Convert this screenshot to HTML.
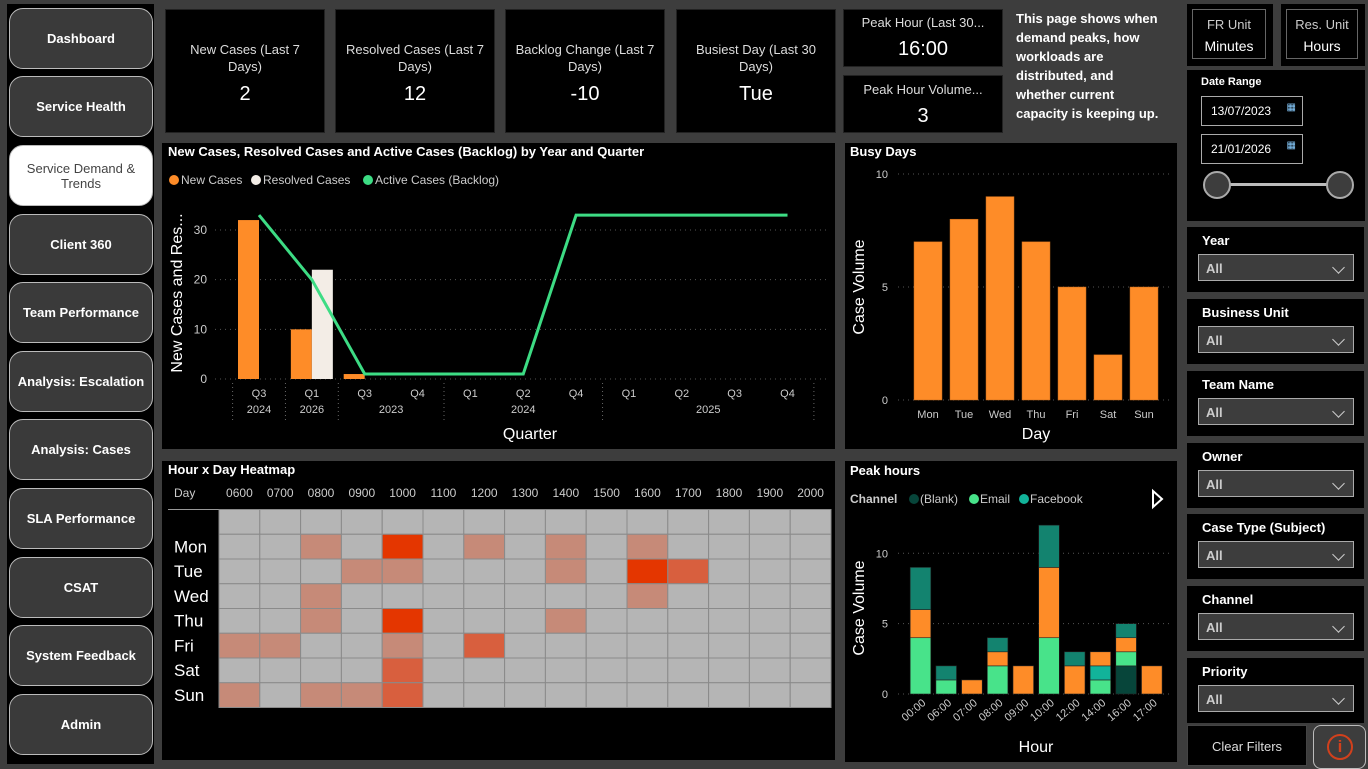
<!DOCTYPE html>
<html><head><meta charset="utf-8">
<style>
*{box-sizing:border-box;margin:0;padding:0}
body{width:1368px;height:768px;background:#3d3d3d;position:relative;overflow:hidden;font-family:"Liberation Sans",sans-serif;color:#fff}
.abs{position:absolute}
.blk{position:absolute;background:#000}
.nav{position:absolute;left:9px;width:144px;height:61px;background:#3a3a3a;border:1px solid #bbb;border-radius:14px;display:flex;align-items:center;justify-content:center;text-align:center;font-size:13px;font-weight:bold;color:#fff}
.nav.active{background:#fff;color:#444;font-weight:normal}
.kpi{position:absolute;background:#000;border:1px solid #222;text-align:center;color:#ddd;font-size:13px}
.kpi .v{font-size:20px;color:#fff}
.slicer{position:absolute;left:1187px;width:177px;height:65px;background:#000}
.slicer .t{position:absolute;left:15px;top:6px;font-size:13px;font-weight:bold;color:#fff}
.slicer .dd{position:absolute;left:11px;top:27px;width:156px;height:27px;background:#3d3d3d;border:1px solid #aaa;color:#ccc;font-size:13px;font-weight:bold;padding:6px 0 0 7px}
.chev{position:absolute;right:10px;top:8px;width:9px;height:9px;border-right:1.5px solid #ccc;border-bottom:1.5px solid #ccc;transform:rotate(45deg)}
</style></head><body>

<div class="blk" style="left:7px;top:4px;width:147px;height:760px"></div>
<div class="nav" style="top:8px">Dashboard</div>
<div class="nav" style="top:76px">Service Health</div>
<div class="nav active" style="top:145px">Service Demand &amp;<br>Trends</div>
<div class="nav" style="top:214px">Client 360</div>
<div class="nav" style="top:282px">Team Performance</div>
<div class="nav" style="top:351px">Analysis: Escalation</div>
<div class="nav" style="top:419px">Analysis: Cases</div>
<div class="nav" style="top:488px">SLA Performance</div>
<div class="nav" style="top:557px">CSAT</div>
<div class="nav" style="top:625px">System Feedback</div>
<div class="nav" style="top:694px">Admin</div>

<div class="kpi" style="left:165px;top:9px;width:160px;height:124px;padding-top:31px;line-height:17px">New Cases (Last 7<br>Days)<div class="v" style="margin-top:7px;line-height:24px">2</div></div>
<div class="kpi" style="left:335px;top:9px;width:160px;height:124px;padding-top:31px;line-height:17px">Resolved Cases (Last 7<br>Days)<div class="v" style="margin-top:7px;line-height:24px">12</div></div>
<div class="kpi" style="left:505px;top:9px;width:160px;height:124px;padding-top:31px;line-height:17px">Backlog Change (Last 7<br>Days)<div class="v" style="margin-top:7px;line-height:24px">-10</div></div>
<div class="kpi" style="left:676px;top:9px;width:160px;height:124px;padding-top:31px;line-height:17px">Busiest Day (Last 30<br>Days)<div class="v" style="margin-top:7px;line-height:24px">Tue</div></div>
<div class="kpi" style="left:843px;top:9px;width:160px;height:58px;padding-top:5px">Peak Hour (Last 30...<div class="v" style="margin-top:8px">16:00</div></div>
<div class="kpi" style="left:843px;top:75px;width:160px;height:58px;padding-top:6px">Peak Hour Volume...<div class="v" style="margin-top:8px">3</div></div>
<div class="abs" style="left:1016px;top:9px;width:150px;font-size:13px;font-weight:bold;line-height:19px;color:#fff">This page shows when demand peaks, how workloads are distributed, and whether current capacity is keeping up.</div>

<!-- right panel -->
<div class="blk" style="left:1187px;top:4px;width:86px;height:62px"></div>
<div class="abs" style="left:1192px;top:9px;width:74px;height:50px;border:1px solid #666;text-align:center;font-size:13px;color:#ccc;padding-top:7px">FR Unit<div style="color:#fff;font-size:14px;margin-top:6px">Minutes</div></div>
<div class="blk" style="left:1281px;top:4px;width:84px;height:62px"></div>
<div class="abs" style="left:1286px;top:9px;width:72px;height:50px;border:1px solid #666;text-align:center;font-size:13px;color:#ccc;padding-top:7px">Res. Unit<div style="color:#fff;font-size:14px;margin-top:6px">Hours</div></div>
<div class="blk" style="left:1187px;top:70px;width:178px;height:151px"></div>
<div class="abs" style="left:1201px;top:76px;font-size:11px;font-weight:bold">Date Range</div>
<div class="abs" style="left:1201px;top:96px;width:102px;height:30px;border:1px solid #aaa;font-size:12px;padding:7px 0 0 9px">13/07/2023<span style="position:absolute;right:6px;top:5px;font-size:10px;color:#8cf">▦</span></div>
<div class="abs" style="left:1201px;top:134px;width:102px;height:30px;border:1px solid #aaa;font-size:12px;padding:7px 0 0 9px">21/01/2026<span style="position:absolute;right:6px;top:5px;font-size:10px;color:#8cf">▦</span></div>
<div class="abs" style="left:1215px;top:183px;width:126px;height:3px;background:#bbb"></div>
<div class="abs" style="left:1203px;top:171px;width:28px;height:28px;border-radius:50%;border:2px solid #aaa;background:#3d3d3d"></div>
<div class="abs" style="left:1326px;top:171px;width:28px;height:28px;border-radius:50%;border:2px solid #aaa;background:#3d3d3d"></div>

<div class="slicer" style="top:227px"><div class="t">Year</div><div class="dd">All<div class="chev"></div></div></div>
<div class="slicer" style="top:299px"><div class="t">Business Unit</div><div class="dd">All<div class="chev"></div></div></div>
<div class="slicer" style="top:371px"><div class="t">Team Name</div><div class="dd">All<div class="chev"></div></div></div>
<div class="slicer" style="top:443px"><div class="t">Owner</div><div class="dd">All<div class="chev"></div></div></div>
<div class="slicer" style="top:514px"><div class="t">Case Type (Subject)</div><div class="dd">All<div class="chev"></div></div></div>
<div class="slicer" style="top:586px"><div class="t">Channel</div><div class="dd">All<div class="chev"></div></div></div>
<div class="slicer" style="top:658px"><div class="t">Priority</div><div class="dd">All<div class="chev"></div></div></div>
<div class="abs" style="left:1187px;top:725px;width:120px;height:41px;background:#000;border:1px solid #444;font-size:13px;color:#ddd;text-align:center;padding-top:13px">Clear Filters</div>
<div class="abs" style="left:1313px;top:725px;width:53px;height:44px;border:1px solid #bbb;border-radius:8px;background:#3d3d3d">
 <div style="position:absolute;left:13px;top:8px;width:26px;height:26px;border:2.5px solid #d2401c;border-radius:50%;color:#d2401c;font-weight:bold;font-size:17px;text-align:center;line-height:21px">i</div></div>

<!-- panels -->
<div class="blk" style="left:162px;top:143px;width:673px;height:306px"></div>
<div class="blk" style="left:845px;top:143px;width:332px;height:306px"></div>
<div class="blk" style="left:162px;top:461px;width:673px;height:299px"></div>
<div class="blk" style="left:845px;top:461px;width:332px;height:301px"></div>

<svg id="svg" class="abs" style="left:0;top:0" width="1368" height="768" font-family="Liberation Sans, sans-serif"></svg>

<script>
// Quarter chart data
const qQuarters=["Q3","Q1","Q3","Q4","Q1","Q2","Q4","Q1","Q2","Q3","Q4"];
const qYears=[["2024",0,0],["2026",1,1],["2023",2,3],["2024",4,6],["2025",7,10]];
const qNew=[32,10,1,0,0,0,0,0,0,0,0];
const qResolved=[0,22,0,0,0,0,0,0,0,0,0];
const qBacklog=[33,20,1,1,1,1,33,33,33,33,33];
const qTicks=[0,10,20,30];
// Busy days
const bdDays=["Mon","Tue","Wed","Thu","Fri","Sat","Sun"];
const bdValues=[7,8,9,7,5,2,5];
const bdTicks=[0,5,10];
// Heatmap
const hmHours=["0600","0700","0800","0900","1000","1100","1200","1300","1400","1500","1600","1700","1800","1900","2000"];
const hmRows=["","Mon","Tue","Wed","Thu","Fri","Sat","Sun"];
const hmValues=[
 [0,0,0,0,0,0,0,0,0,0,0,0,0,0,0],
 [0,0,1,0,3,0,1,0,1,0,1,0,0,0,0],
 [0,0,0,1,1,0,0,0,1,0,3,2,0,0,0],
 [0,0,1,0,0,0,0,0,0,0,1,0,0,0,0],
 [0,0,1,0,3,0,0,0,1,0,0,0,0,0,0],
 [1,1,0,0,1,0,2,0,0,0,0,0,0,0,0],
 [0,0,0,0,2,0,0,0,0,0,0,0,0,0,0],
 [1,0,1,1,2,0,0,0,0,0,0,0,0,0,0]];
// Peak hours
const phHours=["00:00","06:00","07:00","08:00","09:00","10:00","12:00","14:00","16:00","17:00"];
const phBlank=[0,0,0,0,0,0,0,0,2,0];
const phEmail=[4,1,0,2,0,4,0,1,1,0];
const phFacebook=[0,0,0,0,0,0,0,1,0,0];
const phOther=[2,0,1,1,2,5,2,1,1,2];
const phTeal=[3,1,0,1,0,3,1,0,1,0];
const phTicks=[0,5,10];

const svg=document.getElementById('svg');
const NS='http://www.w3.org/2000/svg';
function mk(tag,attrs,parent){const e=document.createElementNS(NS,tag);for(const k in attrs)e.setAttribute(k,attrs[k]);(parent||svg).appendChild(e);return e;}
function txt(x,y,s,attrs,parent){const e=mk('text',Object.assign({x:x,y:y,fill:'#ccc','font-size':12},attrs||{}),parent);e.textContent=s;return e;}

// ---------- Quarter chart ----------
const g1=mk('g',{});


txt(168,156,"New Cases, Resolved Cases and Active Cases (Backlog) by Year and Quarter",{fill:'#fff','font-weight':'bold','font-size':13},g1);
[["New Cases","#fe8c28",169],["Resolved Cases","#f3ede6",251],["Active Cases (Backlog)","#3ddc84",363]].forEach(l=>{
 const c=mk('circle',{cx:l[2]+5,cy:180,r:5,fill:l[1]},g1);
 
 
 txt(l[2]+12,184,l[0],{fill:'#ccc'},g1);});
const qx=i=>259+i*52.85;
const qy=v=>379-v*(149/30);
qTicks.forEach(t=>{mk('line',{x1:215,x2:830,y1:qy(t),y2:qy(t),stroke:'#555','stroke-dasharray':'1 4'},g1);txt(207,qy(t)+4,t,{'text-anchor':'end'},g1);});
qQuarters.forEach((q,i)=>{
 if(qNew[i]>0){const r=mk('rect',{x:qx(i)-21,y:qy(qNew[i]),width:21,height:qy(0)-qy(qNew[i]),fill:'#fe8c28'},g1);
  
  }
 if(qResolved[i]>0){const r=mk('rect',{x:qx(i),y:qy(qResolved[i]),width:21,height:qy(0)-qy(qResolved[i]),fill:'#f3ede6'},g1);
  
  }
 txt(qx(i),397,q,{'text-anchor':'middle','font-size':11},g1);
});
qYears.forEach(y=>{
 const cx=(qx(y[1])+qx(y[2]))/2;
 txt(cx,413,y[0],{'text-anchor':'middle','font-size':11},g1);
 mk('line',{x1:qx(y[1])-26.4,x2:qx(y[1])-26.4,y1:383,y2:421,stroke:'#666','stroke-dasharray':'1 3'},g1);
});
mk('line',{x1:qx(10)+26.4,x2:qx(10)+26.4,y1:383,y2:421,stroke:'#666','stroke-dasharray':'1 3'},g1);
const lp=mk('polyline',{points:qBacklog.map((v,i)=>qx(i)+','+qy(v)).join(' '),fill:'none',stroke:'#3ddc84','stroke-width':3},g1);


txt(530,439,"Quarter",{fill:'#fff','font-size':16,'text-anchor':'middle'},g1);
txt(0,0,"New Cases and Res...",{fill:'#fff','font-size':16,'text-anchor':'middle',transform:'translate(182,293) rotate(-90)'},g1);

// ---------- Busy days ----------
const g2=mk('g',{});


txt(850,156,"Busy Days",{fill:'#fff','font-weight':'bold','font-size':13},g2);
const bx=i=>928+i*36;
const by=v=>400-v*22.6;
bdTicks.forEach(t=>{mk('line',{x1:898,x2:1170,y1:by(t),y2:by(t),stroke:'#555','stroke-dasharray':'1 4'},g2);txt(888,by(t)+4,t,{'text-anchor':'end','font-size':11},g2);});
bdDays.forEach((d,i)=>{
 const r=mk('rect',{x:bx(i)-14,y:by(bdValues[i]),width:28,height:by(0)-by(bdValues[i]),fill:'#fe8c28',stroke:'#c0661a','stroke-width':0.5},g2);
 
 
 txt(bx(i),418,d,{'text-anchor':'middle','font-size':11},g2);
});
txt(1036,439,"Day",{fill:'#fff','font-size':16,'text-anchor':'middle'},g2);
txt(0,0,"Case Volume",{fill:'#fff','font-size':16,'text-anchor':'middle',transform:'translate(864,287) rotate(-90)'},g2);

// ---------- Heatmap ----------
const g3=mk('g',{});


txt(168,474,"Hour x Day Heatmap",{fill:'#fff','font-weight':'bold','font-size':13},g3);
txt(174,497,"Day",{'font-size':12},g3);
const hx=i=>219+i*40.8;
const hy=j=>509.5+j*24.75;
const hcol=['#b5b5b5','#c68a78','#d85f3e','#e43600'];
mk('line',{x1:168,x2:219,y1:509.5,y2:509.5,stroke:'#999'},g3);
hmHours.forEach((h,i)=>txt(hx(i)+20.4,497,h,{'text-anchor':'middle','font-size':12},g3));
hmRows.forEach((r,j)=>{
 txt(174,hy(j)+18,r,{fill:'#fff','font-size':17},g3);
 hmValues[j].forEach((v,i)=>{
  const c=mk('rect',{x:hx(i),y:hy(j),width:40.8,height:24.75,fill:hcol[v],stroke:'#8a8a8a','stroke-width':1},g3);
  
  
 });
});

// ---------- Peak hours ----------
const g4=mk('g',{});


txt(850,475,"Peak hours",{fill:'#fff','font-weight':'bold','font-size':13},g4);
txt(850,503,"Channel",{'font-weight':'bold','font-size':12},g4);
[["(Blank)","#07453a",909],["Email","#48e38a",969],["Facebook","#12b39a",1019]].forEach(l=>{
 const c=mk('circle',{cx:l[2]+5,cy:499,r:5,fill:l[1]},g4);
 
 
 txt(l[2]+11,503,l[0],{'font-size':12},g4);});
const nx=mk('path',{d:'M1153 491 L1162 499 L1153 507 Z',fill:'none',stroke:'#fff','stroke-width':2},g4);


const px=i=>920.5+i*25.7;
const py=v=>694-v*14.07;
phTicks.forEach(t=>{mk('line',{x1:898,x2:1170,y1:py(t),y2:py(t),stroke:'#555','stroke-dasharray':'1 4'},g4);txt(888,py(t)+4,t,{'text-anchor':'end','font-size':11},g4);});
const series=[[phBlank,'#07453a'],[phEmail,'#48e38a'],[phFacebook,'#12b39a'],[phOther,'#fe8c28'],[phTeal,'#13836f']];
phHours.forEach((h,i)=>{
 let base=0;
 series.forEach(s=>{
  const v=s[0][i];
  if(v>0){const r=mk('rect',{x:px(i)-10.3,y:py(base+v),width:20.6,height:py(base)-py(base+v),fill:s[1],stroke:'#222','stroke-width':0.6},g4);
   
   }
  base+=v;
 });
 txt(0,0,h,{'text-anchor':'end','font-size':11,transform:'translate('+(px(i)+6)+',704) rotate(-40)'},g4);
});
txt(1036,752,"Hour",{fill:'#fff','font-size':16,'text-anchor':'middle'},g4);
txt(0,0,"Case Volume",{fill:'#fff','font-size':16,'text-anchor':'middle',transform:'translate(864,608) rotate(-90)'},g4);
</script>
</body></html>
